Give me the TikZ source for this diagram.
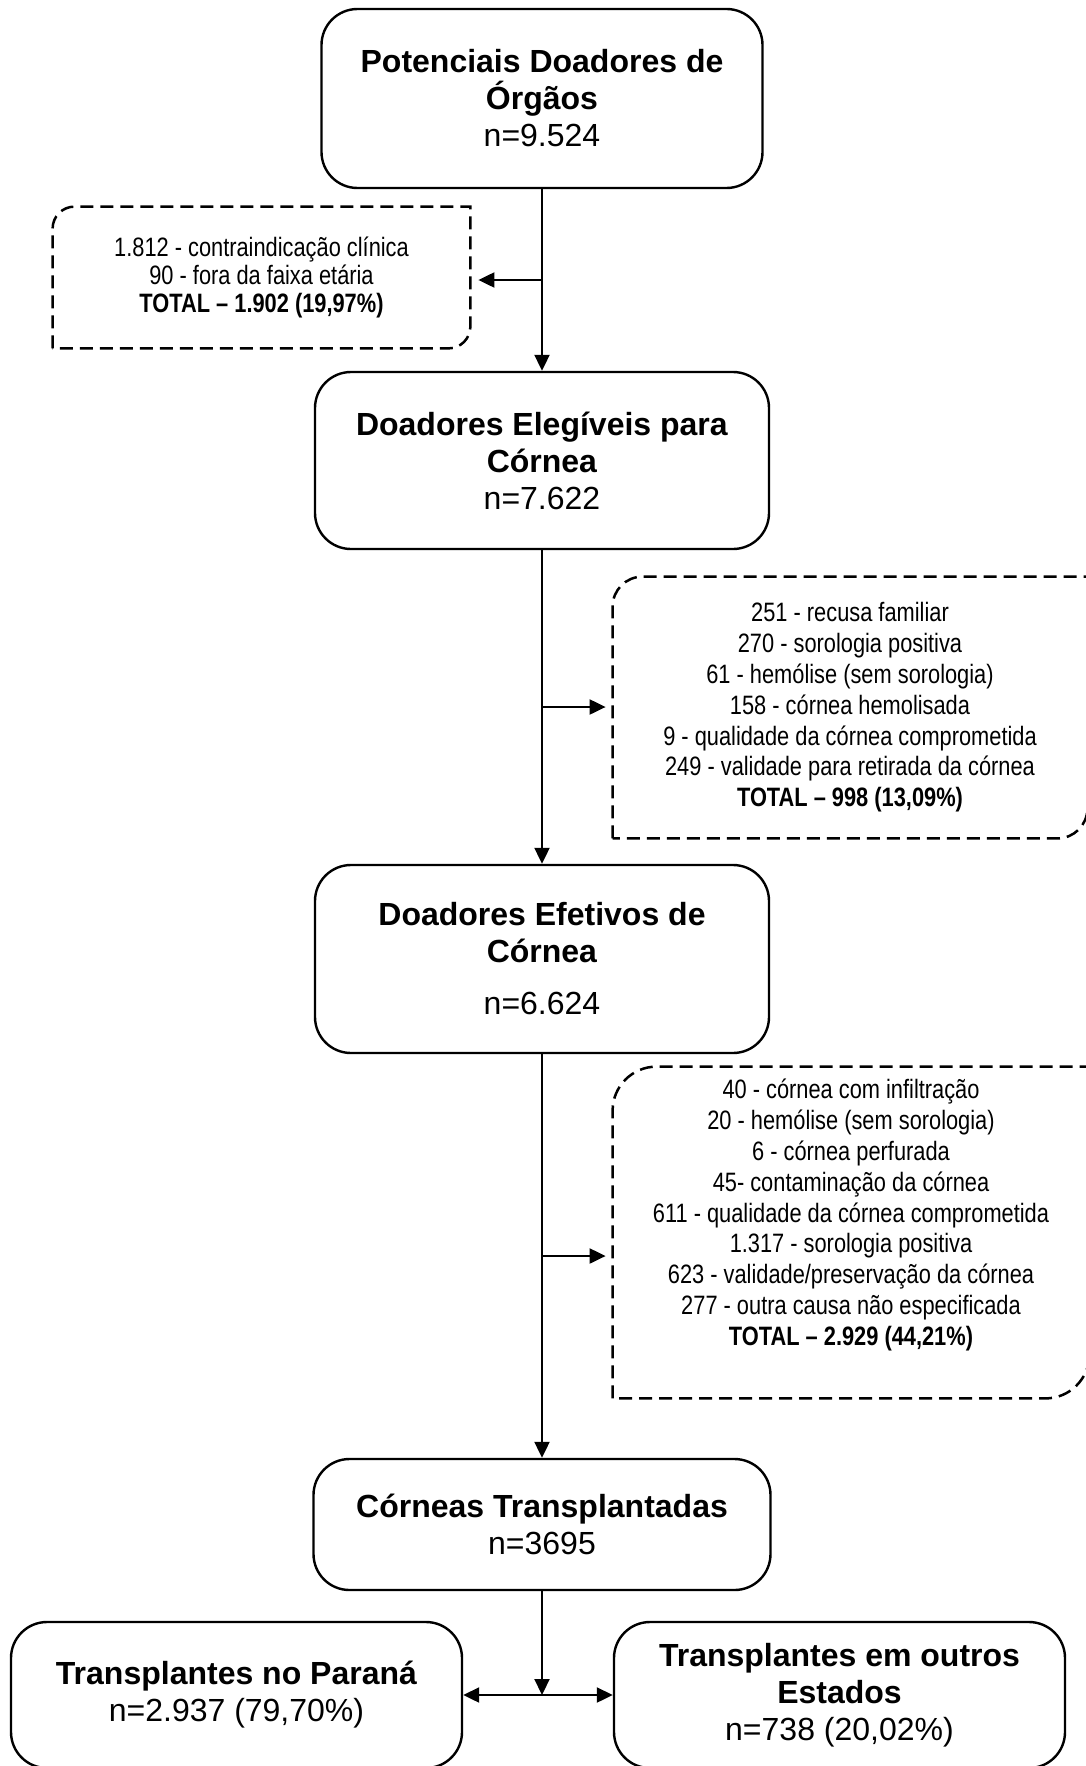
\documentclass[tikz,border=0pt]{standalone}
\usepackage{fontspec}
\setmainfont{Liberation Sans}
\newfontfamily\narrowfont{Liberation Sans}[FakeStretch=0.82]
\usepackage{tikz}
\usetikzlibrary{arrows.meta,calc}
\tikzset{
  stage/.style={draw=black, line width=1.2pt, rounded corners=18pt, align=center, inner sep=0pt,
    font=\fontsize{16}{18.5}\selectfont},
  excl/.style={align=center, inner sep=0pt, font=\narrowfont\fontsize{13.3}{15.4}\selectfont},
  exline/.style={line width=1.25pt, dash pattern=on 6.5pt off 3.5pt},
  flow/.style={-{Triangle[length=8pt,width=7.5pt]}, line width=1.05pt},
  twoway/.style={{Triangle[length=8pt,width=7.5pt]}-{Triangle[length=8pt,width=7.5pt]}, line width=1.05pt},
}
\def\cX{542}
\def\yA{-98.5}
\def\yB{-460.5}
\def\yC{-959}
\def\yD{-1524.5}
\def\yE{-1695}
% dashed frame: [extra depth]{node}{corner radius}
\newcommand{\exframe}[3][0pt]{%
  \draw[exline] ([yshift=-#1]#2.south west) -- ([yshift=-#3]#2.north west)
    arc[start angle=180,end angle=90,radius=#3] -- (#2.north east)
    -- ([yshift=#3-#1]#2.south east) arc[start angle=0,end angle=-90,radius=#3] -- cycle;}

\begin{document}
\begin{tikzpicture}[x=0.5pt,y=0.5pt]
  \clip (0,0) rectangle (1086,-1766);
  \node[stage, minimum width=220.5pt, minimum height=89.5pt] (pot) at (\cX,\yA)
    {\textbf{Potenciais Doadores de}\\\textbf{Órgãos}\\n=9.524};
  \node[stage, minimum width=227pt, minimum height=88.5pt] (eleg) at (\cX,\yB)
    {\textbf{Doadores Elegíveis para}\\\textbf{Córnea}\\n=7.622};
  \node[stage, minimum width=227pt, minimum height=94pt] (efet) at (\cX,\yC)
    {\textbf{Doadores Efetivos de}\\\textbf{Córnea}\\[7.5pt]n=6.624};
  \node[stage, minimum width=228.5pt, minimum height=65.5pt] (transp) at (\cX,\yD)
    {\textbf{Córneas Transplantadas}\\n=3695};
  \node[stage, minimum width=225.5pt, minimum height=73pt] (parana) at (236.5,\yE)
    {\textbf{Transplantes no Paraná}\\n=2.937 (79,70\%)};
  \node[stage, minimum width=225.5pt, minimum height=73pt] (outros) at (839.5,\yE)
    {\textbf{Transplantes em outros}\\\textbf{Estados}\\n=738 (20,02\%)};

  \node[excl, minimum width=208.5pt, minimum height=70.5pt,
    font=\narrowfont\fontsize{13.3}{13.8}\selectfont] (exc1) at (261.5,-277.5)
    {1.812 - contraindicação clínica\\90 - fora da faixa etária\\\textbf{TOTAL – 1.902 (19,97\%)}};
  \node[excl, minimum width=237pt, minimum height=130.5pt] (exc2) at (850,-707.5)
    {251 - recusa familiar\\270 - sorologia positiva\\61 - hemólise (sem sorologia)\\
     158 - córnea hemolisada\\9 - qualidade da córnea comprometida\\
     249 - validade para retirada da córnea\\\textbf{TOTAL – 998 (13,09\%)}};
  \node[excl, minimum width=238pt, minimum height=148pt] (exc3) at (851,-1215)
    {40 - córnea com infiltração\\20 - hemólise (sem sorologia)\\6 - córnea perfurada\\
     45- contaminação da córnea\\611 - qualidade da córnea comprometida\\
     1.317 - sorologia positiva\\623 - validade/preservação da córnea\\
     277 - outra causa não especificada\\\textbf{TOTAL – 2.929 (44,21\%)}};
  \exframe{exc1}{11pt}
  \exframe{exc2}{15pt}
  \exframe[17.5pt]{exc3}{22pt}

  \coordinate (m1) at ($(pot.south)!0.5!(eleg.north)$);
  \coordinate (m2) at ($(eleg.south)!0.5!(efet.north)$);
  \coordinate (m3) at ($(efet.south)!0.5!(transp.north)$);
  \draw[flow] (pot) -- (eleg);
  \draw[flow] (m1) -- ([xshift=4pt]m1 -| exc1.east);
  \draw[flow] (eleg) -- (efet);
  \draw[flow] (m2) -- ([xshift=-3.5pt]m2 -| exc2.west);
  \draw[flow] (efet) -- (transp);
  \draw[flow] (m3) -- ([xshift=-3.5pt]m3 -| exc3.west);
  \draw[flow] (transp) -- (transp.south |- parana.east);
  \draw[twoway] (parana) -- (outros);
\end{tikzpicture}
\end{document}
